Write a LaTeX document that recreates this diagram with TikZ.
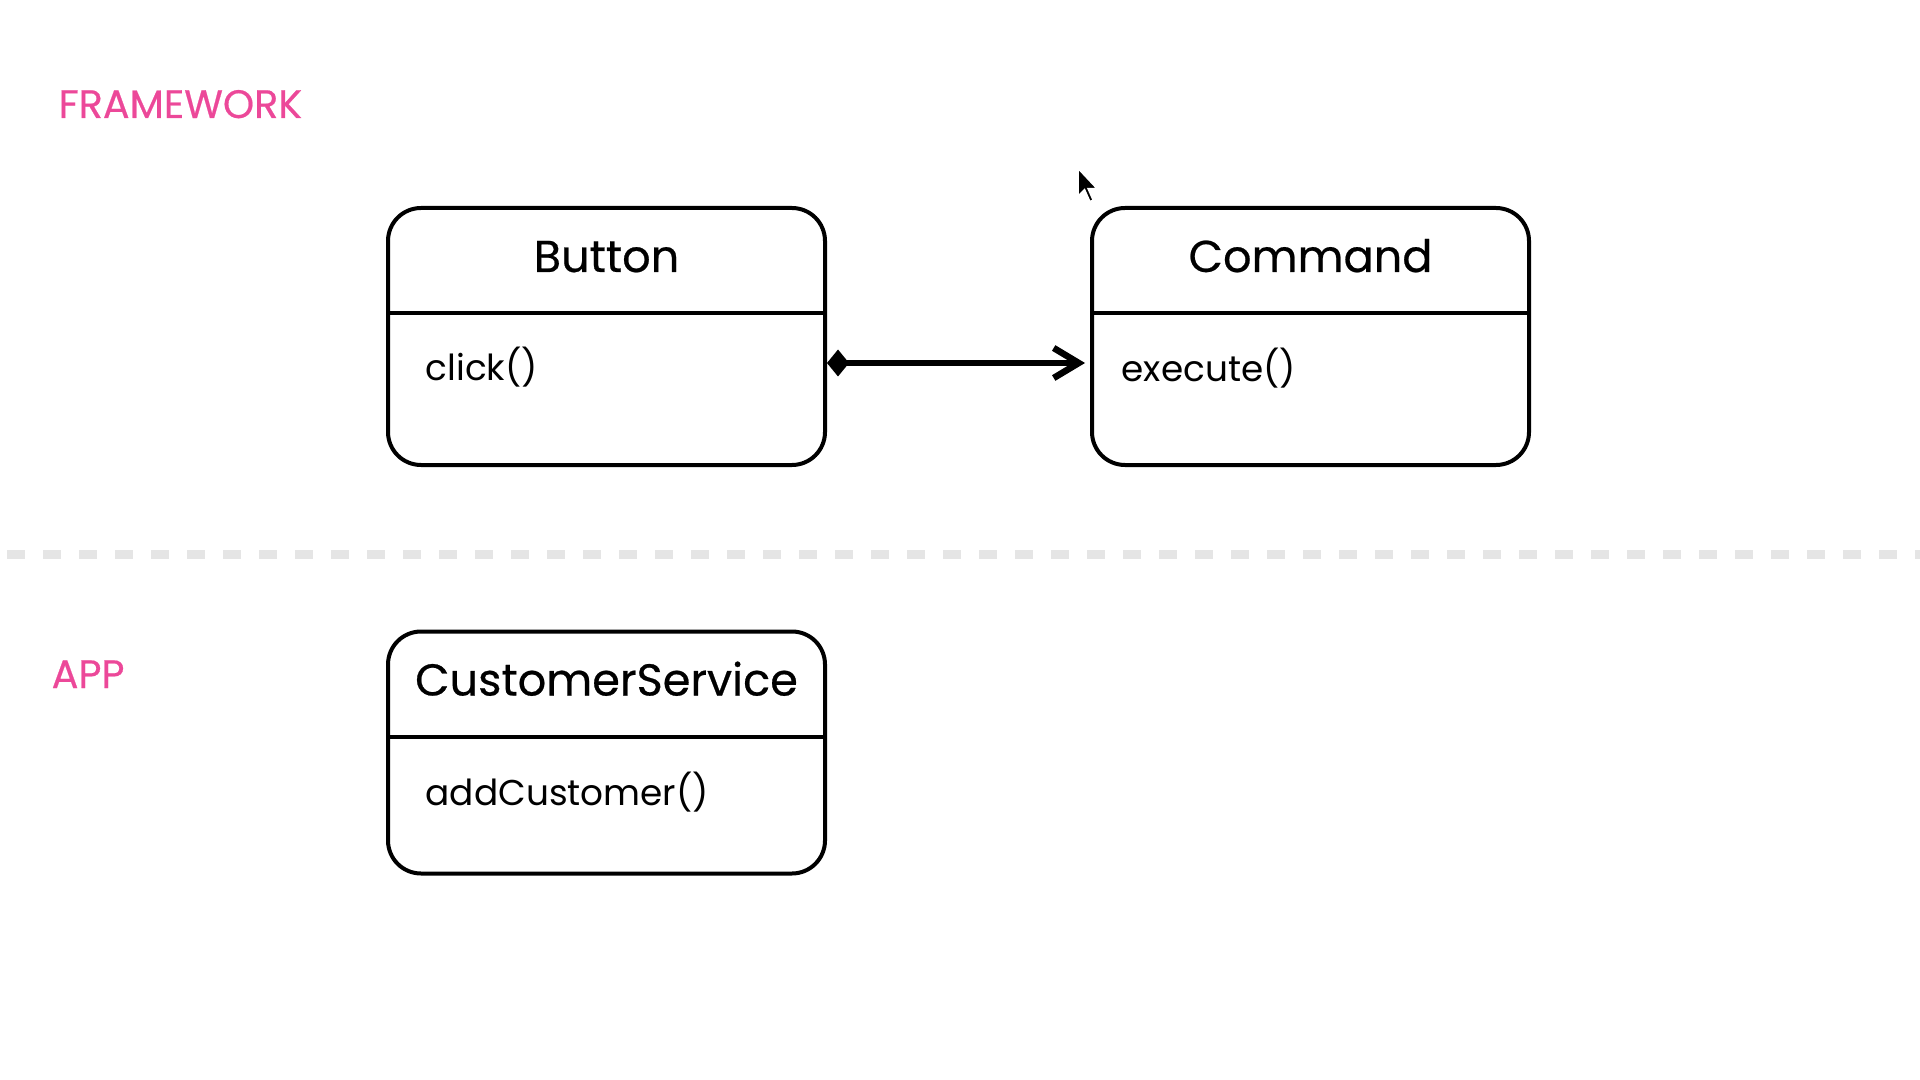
\documentclass[tikz,border=0pt]{standalone}
\usepackage{fontspec}
\setmainfont{Poppins}
\newfontfamily\medfont{Poppins}[FakeBold=0.5]
\usepackage{tikz}
\usetikzlibrary{arrows.meta,positioning,calc}
\definecolor{layerpink}{RGB}{236,72,153}
\definecolor{sepgray}{RGB}{229,229,229}
\tikzstyle{classbox} = [rectangle, rounded corners=3.3mm, minimum width=4.37cm, draw=black, line width=0.04cm]
\tikzstyle{classname} = [anchor=base, inner sep=0pt, font=\medfont\fontsize{12.7}{15}\selectfont]
\tikzstyle{method} = [anchor=base west, inner sep=0pt, font=\fontsize{10.2}{12}\selectfont]
\tikzstyle{layer} = [anchor=base west, inner sep=0pt, text=layerpink, font=\medfont\fontsize{11.3}{13}\selectfont]
\tikzstyle{divider} = [line width=0.04cm]
\tikzstyle{arrow} = [line width=0.065cm, {Diamond[length=0.22cm,width=0.27cm]}-{Straight Barb[length=0.25cm,width=0.3cm]}]

\begin{document}
\begin{tikzpicture}
\useasboundingbox (0,0) rectangle (19.2,-10.8);

% layers
\node (fw) [layer] at (0.58,-1.18) {FRAMEWORK};
\node (app) [layer] at (0.51,-6.88) {APP};
\draw [sepgray, line width=0.09cm, dash pattern=on 0.18cm off 0.18cm] (0.07,-5.54) -- (19.2,-5.54);

% classes
\node (button) [classbox, minimum height=2.57cm] at (6.065,-3.365) {};
\node (command) [classbox, minimum height=2.57cm, right=2.63cm of button] {};
\node (customer) [classbox, minimum height=2.42cm, below=1.625cm of button] {};

\node (buttonname) [classname] at ($(button.north)+(0,-0.66)$) {Button};
\node (commandname) [classname] at ($(command.north)+(0,-0.66)$) {Command};
\node (customername) [classname] at ($(customer.north)+(0,-0.66)$) {CustomerService};

\draw [divider] ([yshift=-1.07cm]button.north west) -- ([yshift=-1.07cm]button.north east);
\draw [divider] ([yshift=-1.07cm]command.north west) -- ([yshift=-1.07cm]command.north east);
\draw [divider] ([yshift=-1.07cm]customer.north west) -- ([yshift=-1.07cm]customer.north east);

\node (click) [method] at ($(button.north west)+(0.39,-1.75)$) {click()};
\node (execute) [method] at ($(command.north west)+(0.31,-1.76)$) {execute()};
\node (addcustomer) [method] at ($(customer.north west)+(0.39,-1.76)$) {addCustomer()};

\draw [arrow, shorten >=0.05cm] ([yshift=-0.265cm]button.east) -- ([yshift=-0.265cm]command.west);

% pointer
\filldraw [fill=black, draw=white, line width=0.02cm, scale=1.3] (8.292,-1.292) -- ++(0,-0.22) -- ++(0.05,0.05) -- ++(0.04,-0.09) -- ++(0.03,0.01) -- ++(-0.04,0.09) -- ++(0.07,0) -- cycle;
\end{tikzpicture}
\end{document}
